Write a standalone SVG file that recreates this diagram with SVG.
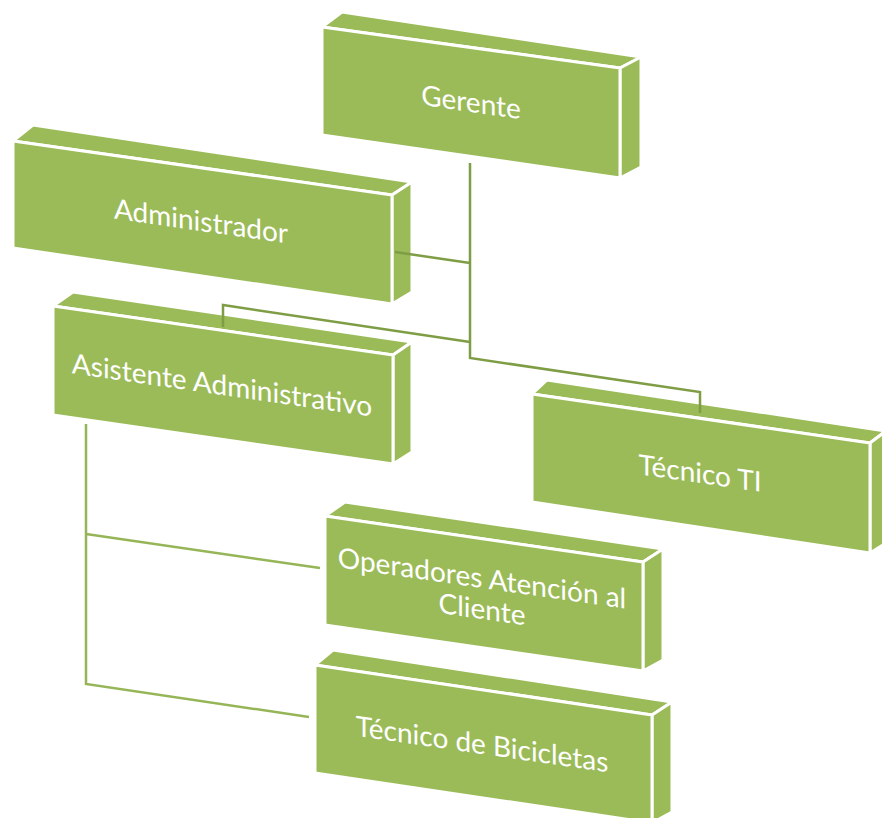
<svg xmlns="http://www.w3.org/2000/svg" width="882" height="818" viewBox="0 0 882 818">
  <style>
    .face { fill: #9BBB59; stroke: #FFFFFF; stroke-width: 3; stroke-linejoin: round; }
    .label { font-family: Lato, "Open Sans", "Liberation Sans", sans-serif; font-size: 28px; fill: #FFFFFF; text-anchor: middle; }
    .link-dark { fill: none; stroke: #7E9D45; stroke-width: 2.5; stroke-linejoin: miter; }
    .link-light { fill: none; stroke: #95B557; stroke-width: 2.5; stroke-linejoin: miter; }
  </style>
  <rect width="882" height="818" fill="#FFFFFF"/>

  <!-- Gerente -->
  <g id="gerente">
    <polygon class="face" points="322,27 342,12 641,57 620,68"/>
    <polygon class="face" points="620,68 641,57 641,167 620,178"/>
    <polygon class="face" points="322,27 620,68 620,178 322,135"/>
    <g transform="translate(471,102) skewY(8.2)"><text class="label" x="0" y="10">Gerente</text></g>
  </g>

  <!-- Administrador -->
  <g id="administrador">
    <polygon class="face" points="13,141 33,125 412,182 392,195"/>
    <polygon class="face" points="392,195 412,182 412,292 392,304"/>
    <polygon class="face" points="13,141 392,195 392,304 13,248"/>
    <g transform="translate(201,221) skewY(8.2)"><text class="label" x="0" y="10">Administrador</text></g>
  </g>

  <!-- Asistente Administrativo -->
  <g id="asistente">
    <polygon class="face" points="53,306 73,292 412,342 393,355"/>
    <polygon class="face" points="393,355 412,342 412,452 393,464"/>
    <polygon class="face" points="53,306 393,355 393,464 53,415"/>
    <g transform="translate(222,385) skewY(8.2)"><text class="label" x="0" y="10">Asistente Administrativo</text></g>
  </g>

  <!-- Técnico TI -->
  <g id="tecnico-ti">
    <polygon class="face" points="532,394 547,380 886,431 870,443"/>
    <polygon class="face" points="870,443 886,431 886,543 870,553"/>
    <polygon class="face" points="532,394 870,443 870,553 532,502"/>
    <g transform="translate(700,473) skewY(8.2)"><text class="label" x="0" y="10">Técnico TI</text></g>
  </g>

  <!-- Operadores Atención al Cliente -->
  <g id="operadores">
    <polygon class="face" points="325,516 345,502 663,549 643,562"/>
    <polygon class="face" points="643,562 663,549 663,660 643,671"/>
    <polygon class="face" points="325,516 643,562 643,671 325,625"/>
    <g transform="translate(482,593) skewY(8.2)">
      <text class="label" x="0" y="-5">Operadores Atención al</text>
      <text class="label" x="0" y="26">Cliente</text>
    </g>
  </g>

  <!-- Técnico de Bicicletas -->
  <g id="tecnico-bicicletas">
    <polygon class="face" points="315,665 333,650 672,702 652,715"/>
    <polygon class="face" points="652,715 672,702 672,812 652,823"/>
    <polygon class="face" points="315,665 652,715 652,823 315,773"/>
    <g transform="translate(482,744) skewY(8.2)"><text class="label" x="0" y="10">Técnico de Bicicletas</text></g>
  </g>

  <!-- Connectors -->
  <g id="connectors">
    <polyline class="link-dark" points="470,163 470,358 700,392 700,413"/>
    <polyline class="link-dark" points="395,252 470,263"/>
    <polyline class="link-dark" points="223,327 223,305 470,342"/>
    <polyline class="link-light" points="86,424 86,684 309,717"/>
    <polyline class="link-light" points="86,534 320,568"/>
  </g>
</svg>
